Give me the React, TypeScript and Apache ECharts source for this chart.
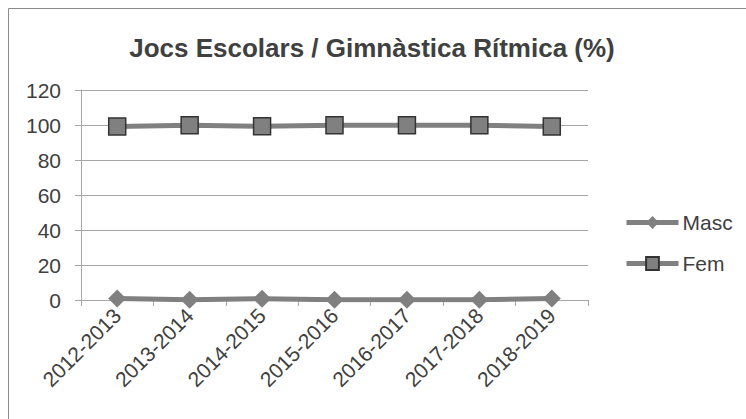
import React, { useEffect, useRef } from "react";
import * as echarts from "echarts";

const categories = ["2012-2013", "2013-2014", "2014-2015", "2015-2016", "2016-2017", "2017-2018", "2018-2019"];
const mascValues = [0.8, 0.2, 0.7, 0.1, 0.2, 0.2, 0.9];
const femValues = [99.2, 99.8, 99.3, 99.9, 99.8, 99.8, 99.1];
const titleText = "Jocs Escolars / Gimnàstica Rítmica (%)";

export default function App() {
  const ref = useRef<HTMLDivElement>(null);
  useEffect(() => {
    if (!ref.current) return;
    const chart = echarts.init(ref.current, null, { renderer: "svg" });
    const font = "Liberation Sans";
    chart.setOption({
      animation: false,
      backgroundColor: "#ffffff",
      textStyle: { fontFamily: font },
      title: {
        text: titleText,
        left: 367,
        textAlign: "center",
        top: 30,
        textStyle: { fontFamily: font, fontSize: 26, fontWeight: "bold", color: "#404040" },
      },
      graphic: [
        {
          type: "rect",
          shape: { x: 8.5, y: 8.5, width: 800, height: 500 },
          style: { fill: "none", stroke: "#8c8c8c", lineWidth: 1 },
          silent: true,
        },
      ],
      legend: {
        orient: "vertical",
        left: 619,
        top: 207,
        itemWidth: 52,
        itemHeight: 16,
        itemGap: 20,
        lineStyle: { width: 5 },
        textStyle: { fontFamily: font, fontSize: 21, color: "#404040", padding: [0, 0, 0, -1] },
        data: ["Masc", "Fem"],
      },
      grid: { left: 81, right: 158, top: 90, bottom: 119, containLabel: false },
      xAxis: {
        type: "category",
        data: categories,
        boundaryGap: true,
        axisLine: { lineStyle: { color: "#a6a6a6", width: 1 } },
        axisTick: { show: true, length: 6, lineStyle: { color: "#a6a6a6" }, alignWithLabel: false },
        axisLabel: { rotate: 45, fontSize: 21, color: "#404040", margin: 12, fontFamily: font },
        splitLine: { show: false },
      },
      yAxis: {
        type: "value",
        min: 0,
        max: 120,
        interval: 20,
        axisLine: { show: true, lineStyle: { color: "#a6a6a6", width: 1 } },
        axisTick: { show: true, length: 6, lineStyle: { color: "#a6a6a6" } },
        axisLabel: { fontSize: 21, color: "#404040", margin: 20, fontFamily: font },
        splitLine: { show: true, lineStyle: { color: "#a6a6a6", width: 1 } },
      },
      series: [
        {
          name: "Masc",
          type: "line",
          data: mascValues,
          symbol: "diamond",
          symbolSize: 18,
          lineStyle: { color: "#808080", width: 5 },
          itemStyle: { color: "#808080" },
        },
        {
          name: "Fem",
          type: "line",
          data: femValues,
          symbol: "rect",
          symbolSize: 17,
          lineStyle: { color: "#808080", width: 5 },
          itemStyle: { color: "#808080", borderColor: "#333333", borderWidth: 1.5 },
        },
      ],
    });
    return () => chart.dispose();
  }, []);
  return (
    <div
      ref={ref}
      style={{ position: "absolute", left: 0, top: 0, width: 746, height: 419 }}
    />
  );
}
